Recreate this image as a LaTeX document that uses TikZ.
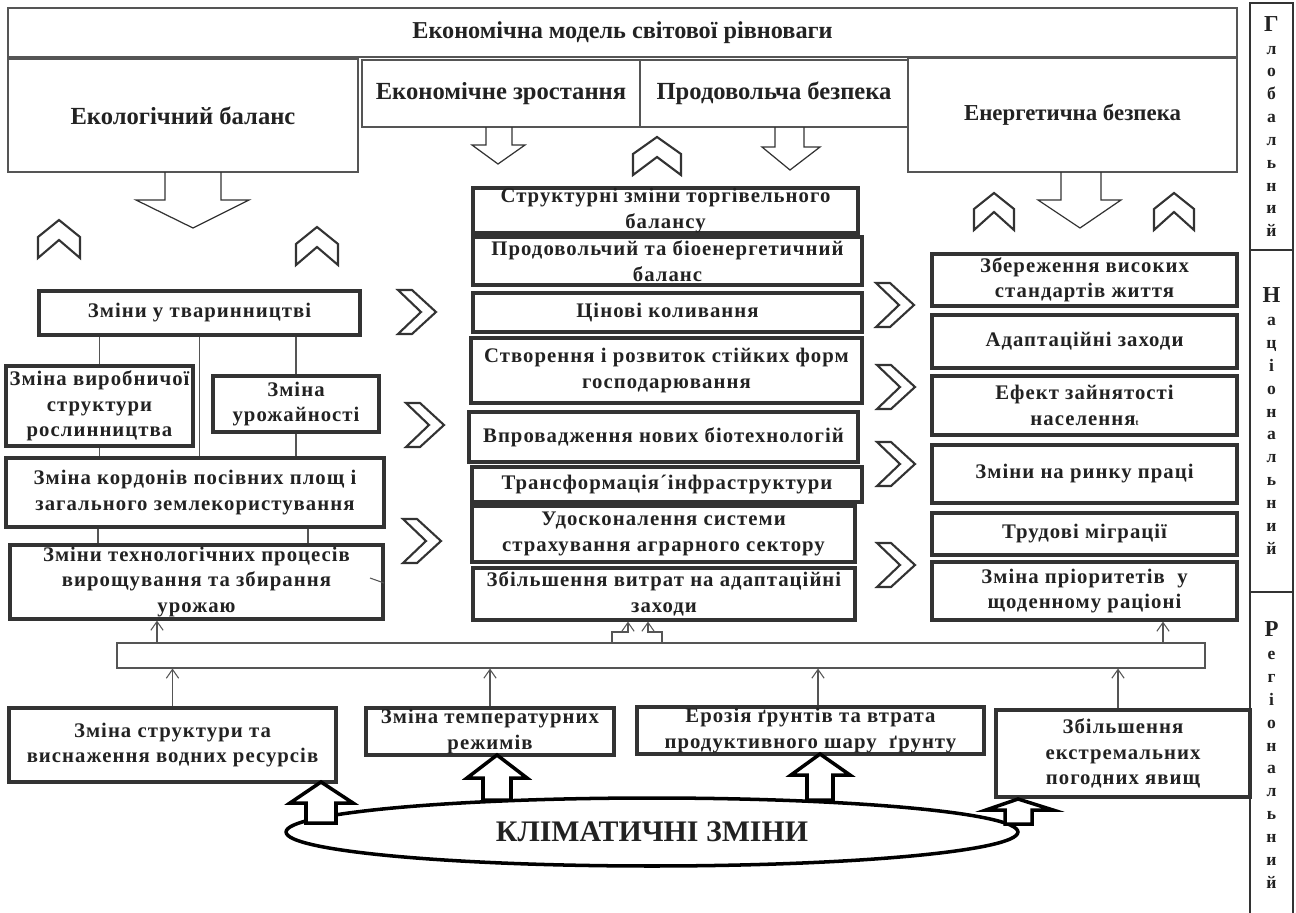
\documentclass[tikz,border=0pt]{standalone}
\usepackage{fontspec}
\setmainfont{Liberation Serif}
\newfontfamily\boxfont{Liberation Serif}[LetterSpace=5]
\usetikzlibrary{positioning,shapes.geometric,arrows.meta}

\definecolor{linegray}{HTML}{333333}
\definecolor{thingray}{HTML}{555555}
\definecolor{busgray}{HTML}{777777}
\definecolor{textblack}{HTML}{222222}

\begin{document}
\begin{tikzpicture}[x=0.02cm, y=-0.02cm, >={Straight Barb[length=5pt,width=7pt]},
    corners/.style n args={4}{at={({(#1+#3)/2},{(#2+#4)/2})}, minimum width={(#3-#1)*0.02cm}, minimum height={(#4-#2)*0.02cm}}]
    \useasboundingbox (0,0) rectangle (1296,913);
    \begin{scope}[top/.style={draw=thingray, line width=0.8pt, inner sep=0pt, align=center, text=textblack, font=\bfseries\fontsize{13}{16}\selectfont},
        big/.style={font=\bfseries\fontsize{14}{16}\selectfont},
        all/.style={draw=linegray, line width=1.8pt, inner sep=0pt, align=center, text=textblack, font=\boxfont\bfseries\fontsize{11.8}{14.5}\selectfont},
        lvl/.style={draw=linegray, line width=1pt, inner sep=0pt, align=center, text=textblack, font=\bfseries\fontsize{10}{13}\selectfont},
        chev/.style={draw=linegray, line width=1.2pt, fill=white, line join=miter},
        hollow/.style={draw=linegray, line width=0.7pt},
        fat/.style={draw=black, line width=2pt, fill=white, line join=miter},
        thin/.style={draw=thingray, line width=0.6pt}]
        % global level
        \node[top, font=\bfseries\fontsize{13.8}{16}\selectfont, corners={8}{8}{1237}{57}] (model) {Економічна модель світової рівноваги};
        \node[top, big, corners={8}{59}{358}{172}] (ekol) {Екологічний баланс};
        \node[top, big, corners={362}{60}{640}{127}] (zrost) {Економічне зростання};
        \node[top, big, corners={640}{60}{908}{127}] (prod) {Продовольча безпека};
        \node[top, corners={908}{58}{1237}{172}] (energ) {Енергетична безпека};
        % level column
        \node[lvl, corners={1250}{3}{1293}{250}] (glob) {{\fontsize{13}{13}\selectfont Г}\\л\\о\\б\\а\\л\\ь\\н\\и\\й};
        \node[lvl, corners={1250}{250}{1293}{592}] (nats) {{\fontsize{13}{13}\selectfont Н}\\а\\ц\\і\\о\\н\\а\\л\\ь\\н\\и\\й};
        \node[lvl, corners={1250}{592}{1293}{918}] (reg) {{\fontsize{13}{13}\selectfont Р}\\е\\г\\і\\о\\н\\а\\л\\ь\\н\\и\\й};
        % hollow arrows from the top
        \draw[hollow] (165,172) -- (165,200) -- (136,200) -- (193,228) -- (249,200) -- (221,200) -- (221,172);
        \draw[hollow] (486,127) -- (486,145) -- (472,145) -- (498,164) -- (525,145) -- (512,145) -- (512,127);
        \draw[hollow] (775,127) -- (775,147) -- (762,147) -- (790,170) -- (820,147) -- (804,147) -- (804,127);
        \draw[hollow] (1061,172) -- (1061,200) -- (1038,200) -- (1080,228) -- (1121,200) -- (1101,200) -- (1101,172);
        % upward chevrons
        \draw[chev, shift={(38,220)}] (0,38) -- (0,17) -- (21,0) -- (42,17) -- (42,38) -- (21,20) -- cycle;
        \draw[chev, shift={(296,227)}] (0,38) -- (0,17) -- (21,0) -- (42,17) -- (42,38) -- (21,20) -- cycle;
        \draw[chev, shift={(633,137)}] (0,38) -- (0,17) -- (24,0) -- (48,17) -- (48,38) -- (24,20) -- cycle;
        \draw[chev, shift={(974,193)}] (0,37) -- (0,16) -- (20,0) -- (40,16) -- (40,37) -- (20,19) -- cycle;
        \draw[chev, shift={(1154,193)}] (0,37) -- (0,16) -- (20,0) -- (40,16) -- (40,37) -- (20,19) -- cycle;
        % left column
        \node[all, corners={39}{291}{360}{335}] (tvar) {Зміни у тваринництві};
        \node[all, corners={6}{366}{193}{446}] (vyrob) {Зміна виробничої\\структури\\рослинництва};
        \node[all, corners={213}{376}{379}{432}] (urozh) {Зміна\\урожайності};
        \node[all, corners={6}{458}{384}{527}] (kord) {Зміна кордонів посівних площ і\\загального землекористування};
        \node[all, corners={10}{545}{383}{619}] (tech) {Зміни технологічних процесів\\вирощування та збирання\\урожаю};
        \begin{scope}[thin]
        \draw (vyrob.north) -- (vyrob.north |- tvar.south);
        \draw (tvar.south) -- (tvar.south |- kord.north);
        \draw (urozh.north) -- (urozh.north |- tvar.south);
        \draw (vyrob.south) -- (vyrob.south |- kord.north);
        \draw (urozh.south) -- (urozh.south |- kord.north);
        \draw (98,0 |- kord.south) -- (98,0 |- tech.north);
        \draw (308,0 |- kord.south) -- (308,0 |- tech.north);
        \draw (370,578) -- (384,583);
        \end{scope}
        % middle column
        \node[all, corners={473}{188}{858}{233}] (struk) {Структурні зміни торгівельного\\балансу};
        \node[all, corners={473}{237}{862}{285}] (bioen) {Продовольчий та біоенергетичний\\баланс};
        \node[all, corners={473}{293}{862}{332}] (cin) {Цінові коливання};
        \node[all, corners={471}{338}{862}{403}] (stvor) {Створення і розвиток стійких форм\\господарювання};
        \node[all, corners={469}{412}{858}{462}] (vprov) {Впровадження нових біотехнологій};
        \node[all, corners={472}{467}{862}{502}] (trans) {Трансформація´інфраструктури};
        \node[all, corners={472}{506}{855}{562}] (udosk) {Удосконалення системи\\страхування аграрного сектору};
        \node[all, corners={473}{568}{855}{620}] (vytr) {Збільшення витрат на адаптаційні\\заходи};
        % right column
        \node[all, corners={932}{254}{1237}{306}] (stand) {Збереження високих\\стандартів життя};
        \node[all, corners={932}{315}{1237}{368}] (adapt) {Адаптаційні заходи};
        \node[all, corners={932}{376}{1237}{435}] (zain) {Ефект зайнятості\\населення{\tiny t}};
        \node[all, corners={932}{445}{1237}{503}] (rynok) {Зміни на ринку праці};
        \node[all, corners={932}{513}{1237}{555}] (migr) {Трудові міграції};
        \node[all, corners={932}{562}{1237}{620}] (prior) {Зміна пріоритетів\ \ у\\щоденному раціоні};
        % rightward chevrons
        \draw[chev, shift={(398,290)}] (0,0) -- (14,0) -- (38,22) -- (14,44) -- (0,44) -- (23,22) -- cycle;
        \draw[chev, shift={(406,403)}] (0,0) -- (14,0) -- (38,22) -- (14,44) -- (0,44) -- (23,22) -- cycle;
        \draw[chev, shift={(403,519)}] (0,0) -- (14,0) -- (38,22) -- (14,44) -- (0,44) -- (23,22) -- cycle;
        \draw[chev, shift={(876,283)}] (0,0) -- (14,0) -- (38,22) -- (14,44) -- (0,44) -- (23,22) -- cycle;
        \draw[chev, shift={(877,365)}] (0,0) -- (14,0) -- (38,22) -- (14,44) -- (0,44) -- (23,22) -- cycle;
        \draw[chev, shift={(877,442)}] (0,0) -- (14,0) -- (38,22) -- (14,44) -- (0,44) -- (23,22) -- cycle;
        \draw[chev, shift={(877,543)}] (0,0) -- (14,0) -- (38,22) -- (14,44) -- (0,44) -- (23,22) -- cycle;
        % regional level
        \node[all, corners={9}{708}{336}{782}] (water) {Зміна структури та\\виснаження водних ресурсів};
        \node[all, corners={366}{708}{614}{755}] (temp) {Зміна температурних\\режимів};
        \node[all, corners={637}{707}{984}{754}] (eroz) {Ерозія ґрунтів та втрата\\продуктивного шару\ \ ґрунту};
        \node[all, corners={996}{710}{1250}{797}] (extr) {Збільшення\\екстремальних\\погодних явищ};
        \node[draw=black, line width=2pt, ellipse, minimum width=14.64cm, minimum height=1.36cm, inner sep=0pt, text=textblack, font=\bfseries\fontsize{17}{20}\selectfont] (klim) at (652,832) {КЛІМАТИЧНІ ЗМІНИ};
        \draw[fat] (306,823) -- (306,803) -- (290,803) -- (321,782) -- (353,803) -- (336,803) -- (336,823) -- cycle;
        \draw[fat] (483,800) -- (483,778) -- (467,778) -- (497,755) -- (527,778) -- (511,778) -- (511,800) -- cycle;
        \draw[fat] (807,800) -- (807,775) -- (791,775) -- (820,754) -- (850,775) -- (833,775) -- (833,800) -- cycle;
        \draw[fat] (1005,824) -- (1005,810) -- (986,810) -- (1018,799) -- (1053,810) -- (1032,810) -- (1032,824) -- cycle;
        % collecting line
        \node[thin, draw, inner sep=0pt, corners={117}{643}{1205}{668}] (bus) {};
        \begin{scope}[thin]
        \path[->] (water.north) edge (water.north |- bus.south);
        \path[->] (temp.north) edge (temp.north |- bus.south);
        \path[->] (818,0 |- eroz.north) edge (818,0 |- bus.south);
        \path[->] (1118,0 |- extr.north) edge (1118,0 |- bus.south);
        \path[->] (157,0 |- bus.north) edge (157,0 |- tech.south);
        \path[->] (1163,0 |- bus.north) edge (1163,0 |- prior.south);
        \draw[->] (612,0 |- bus.north) |- (628,632) -- (628,0 |- vytr.south);
        \draw[->] (662,0 |- bus.north) |- (648,632) -- (648,0 |- vytr.south);
        \end{scope}
    \end{scope}
\end{tikzpicture}
\end{document}
